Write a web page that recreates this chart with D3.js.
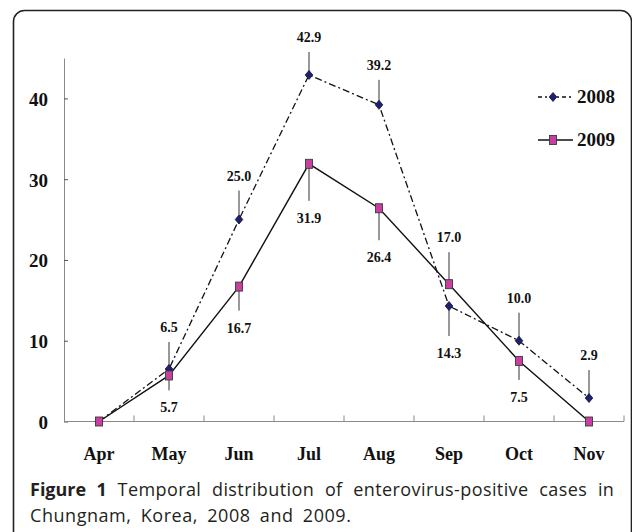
<!DOCTYPE html>
<html>
<head>
<meta charset="utf-8">
<script src="https://cdn.jsdelivr.net/npm/d3@7"></script>
<style>
  body { margin: 0; background: #ffffff; }
  svg { display: block; }
</style>
</head>
<body>
<script>
// months on the x axis
var months = ["Apr", "May", "Jun", "Jul", "Aug", "Sep", "Oct", "Nov"];
// enterovirus-positive cases per month
var values2008 = [0, 6.5, 25.0, 42.9, 39.2, 14.3, 10.0, 2.9];
var values2009 = [0, 5.7, 16.7, 31.9, 26.4, 17.0, 7.5, 0];
var yTicks = [0, 10, 20, 30, 40];
var seriesNames = ["2008", "2009"];
// leader line length of each value label (+ above the point, - below, 0 = no label)
var leader2008 = [0, 27, 29, 23, 25, -30, 28, 28];
var leader2009 = [0, -15, -24, -37, -32, 32, -19, 0];

// svg variables
var width = 632;
var height = 532;
var chartLeft = 64;
var chartRight = 624;
var chartTop = 58;
var chartBottom = 421.5;
var serif = "'Liberation Serif', 'Times New Roman', serif";
var sans = "'Open Sans', 'Noto Sans', sans-serif";

var svg = d3.select("body")
  .append("svg")
  .attr("width", width)
  .attr("height", height);

// frame round the figure
svg.append("rect")
  .attr("x", 13.5)
  .attr("y", 10.5)
  .attr("width", 618)
  .attr("height", 545)
  .attr("rx", 11)
  .attr("fill", "none")
  .attr("stroke", "#222")
  .attr("stroke-width", 1.6);

// scales
var xScale = d3.scaleBand()
  .domain(months)
  .range([chartLeft, chartRight]);
var yScale = d3.scaleLinear()
  .domain([0, 45])
  .range([chartBottom, chartTop]);
var xMid = function(m) { return xScale(m) + xScale.bandwidth() / 2; };

// y axis, ticks pointing inward
var yAxis = d3.axisLeft(yScale)
  .tickValues(yTicks)
  .tickSizeInner(-4)
  .tickSizeOuter(0)
  .tickPadding(16);
var gy = svg.append("g")
  .attr("transform", "translate(" + [chartLeft, 0] + ")")
  .call(yAxis);
gy.select(".domain").attr("stroke", "#8a8a8a");
gy.selectAll(".tick line").attr("stroke", "#555");
gy.selectAll(".tick text")
  .attr("dy", "0.36em")
  .style("font-family", serif)
  .style("font-weight", "bold")
  .style("font-size", "19px")
  .attr("fill", "#111");

// x axis: labels in the middle of each month, ticks on the boundaries
var xAxis = d3.axisBottom(xScale)
  .tickSize(0)
  .tickPadding(26);
var gx = svg.append("g")
  .attr("transform", "translate(" + [0, chartBottom] + ")")
  .call(xAxis);
gx.select(".domain").remove();
gx.selectAll(".tick text")
  .attr("dy", "0.71em")
  .style("font-family", serif)
  .style("font-weight", "bold")
  .style("font-size", "18px")
  .attr("fill", "#111");

svg.append("line")
  .attr("x1", chartLeft)
  .attr("x2", chartRight)
  .attr("y1", chartBottom)
  .attr("y2", chartBottom)
  .attr("stroke", "#8a8a8a");
svg.selectAll(".xtick")
  .data(months)
  .enter()
  .append("line")
  .attr("class", "xtick")
  .attr("x1", function(m) { return xScale(m) + xScale.bandwidth(); })
  .attr("x2", function(m) { return xScale(m) + xScale.bandwidth(); })
  .attr("y1", chartBottom)
  .attr("y2", chartBottom - 6)
  .attr("stroke", "#8a8a8a");

// lines
var line = d3.line()
  .x(function(d, i) { return xMid(months[i]); })
  .y(function(d) { return yScale(d); });

svg.append("path")
  .datum(values2008)
  .attr("d", line)
  .attr("fill", "none")
  .attr("stroke", "#111")
  .attr("stroke-width", 1.3)
  .attr("stroke-dasharray", "7,3,2,3");

svg.append("path")
  .datum(values2009)
  .attr("d", line)
  .attr("fill", "none")
  .attr("stroke", "#111")
  .attr("stroke-width", 1.4);

// value labels with leader lines
function addLabels(values, leaders) {
  values.forEach(function(v, i) {
    var len = leaders[i];
    if (len === 0) return;
    var x = xMid(months[i]);
    var y = yScale(v);
    var end = y - len;
    svg.append("line")
      .attr("x1", x)
      .attr("x2", x)
      .attr("y1", y)
      .attr("y2", end)
      .attr("stroke", "#333")
      .attr("stroke-width", 1);
    svg.append("text")
      .attr("x", x)
      .attr("y", len > 0 ? end - 10 : end + 22)
      .attr("text-anchor", "middle")
      .style("font-family", serif)
      .style("font-weight", "bold")
      .style("font-size", "14px")
      .attr("fill", "#111")
      .text(v.toFixed(1));
  });
}
addLabels(values2008, leader2008);
addLabels(values2009, leader2009);

// markers
function diamond(x, y) {
  return "M" + x + "," + (y - 4.5) + "L" + (x + 3.8) + "," + y +
         "L" + x + "," + (y + 4.5) + "L" + (x - 3.8) + "," + y + "Z";
}

svg.selectAll(".m2008")
  .data(values2008)
  .enter()
  .append("path")
  .attr("class", "m2008")
  .attr("d", function(d, i) { return diamond(xMid(months[i]), yScale(d)); })
  .attr("fill", "#202070")
  .attr("stroke", "#10103a")
  .attr("stroke-width", 0.8);

svg.selectAll(".m2009")
  .data(values2009)
  .enter()
  .append("rect")
  .attr("class", "m2009")
  .attr("x", function(d, i) { return xMid(months[i]) - 3.5; })
  .attr("y", function(d) { return yScale(d) - 4.5; })
  .attr("width", 7)
  .attr("height", 9)
  .attr("fill", "#c8409f")
  .attr("stroke", "#3a3a3a")
  .attr("stroke-width", 0.9);

// legend
var legend = svg.append("g");
seriesNames.forEach(function(name, i) {
  var ly = 97 + i * 43;
  legend.append("line")
    .attr("x1", 538)
    .attr("x2", 573)
    .attr("y1", ly)
    .attr("y2", ly)
    .attr("stroke", "#111")
    .attr("stroke-width", 1.3)
    .attr("stroke-dasharray", i === 0 ? "4,3,2,3" : null);
  if (i === 0) {
    legend.append("path")
      .attr("d", diamond(553, ly))
      .attr("fill", "#202070")
      .attr("stroke", "#10103a")
      .attr("stroke-width", 0.8);
  } else {
    legend.append("rect")
      .attr("x", 549.5)
      .attr("y", ly - 4.5)
      .attr("width", 7)
      .attr("height", 9)
      .attr("fill", "#c8409f")
      .attr("stroke", "#3a3a3a")
      .attr("stroke-width", 0.9);
  }
  legend.append("text")
    .attr("x", 577)
    .attr("y", ly + 6)
    .style("font-family", serif)
    .style("font-weight", "bold")
    .style("font-size", "19px")
    .attr("fill", "#111")
    .text(name);
});

// caption, first line justified
var cap1 = svg.append("text")
  .attr("x", 30)
  .attr("y", 496)
  .style("font-family", sans)
  .style("font-size", "18px")
  .style("font-weight", 500)
  .style("letter-spacing", "0.4px")
  .attr("fill", "#231f20");
cap1.append("tspan").style("font-weight", "bold").style("letter-spacing", "0px").text("Figure 1");
cap1.append("tspan").text(" Temporal distribution of enterovirus-positive cases in");
var spaces = 8;
var extra = (590 - cap1.node().getComputedTextLength()) / spaces;
cap1.attr("word-spacing", extra);

svg.append("text")
  .attr("x", 30)
  .attr("y", 522)
  .style("font-family", sans)
  .style("font-size", "18px")
  .style("font-weight", 500)
  .style("letter-spacing", "0.55px")
  .attr("word-spacing", 4)
  .attr("fill", "#231f20")
  .text("Chungnam, Korea, 2008 and 2009.");
</script>
</body>
</html>
